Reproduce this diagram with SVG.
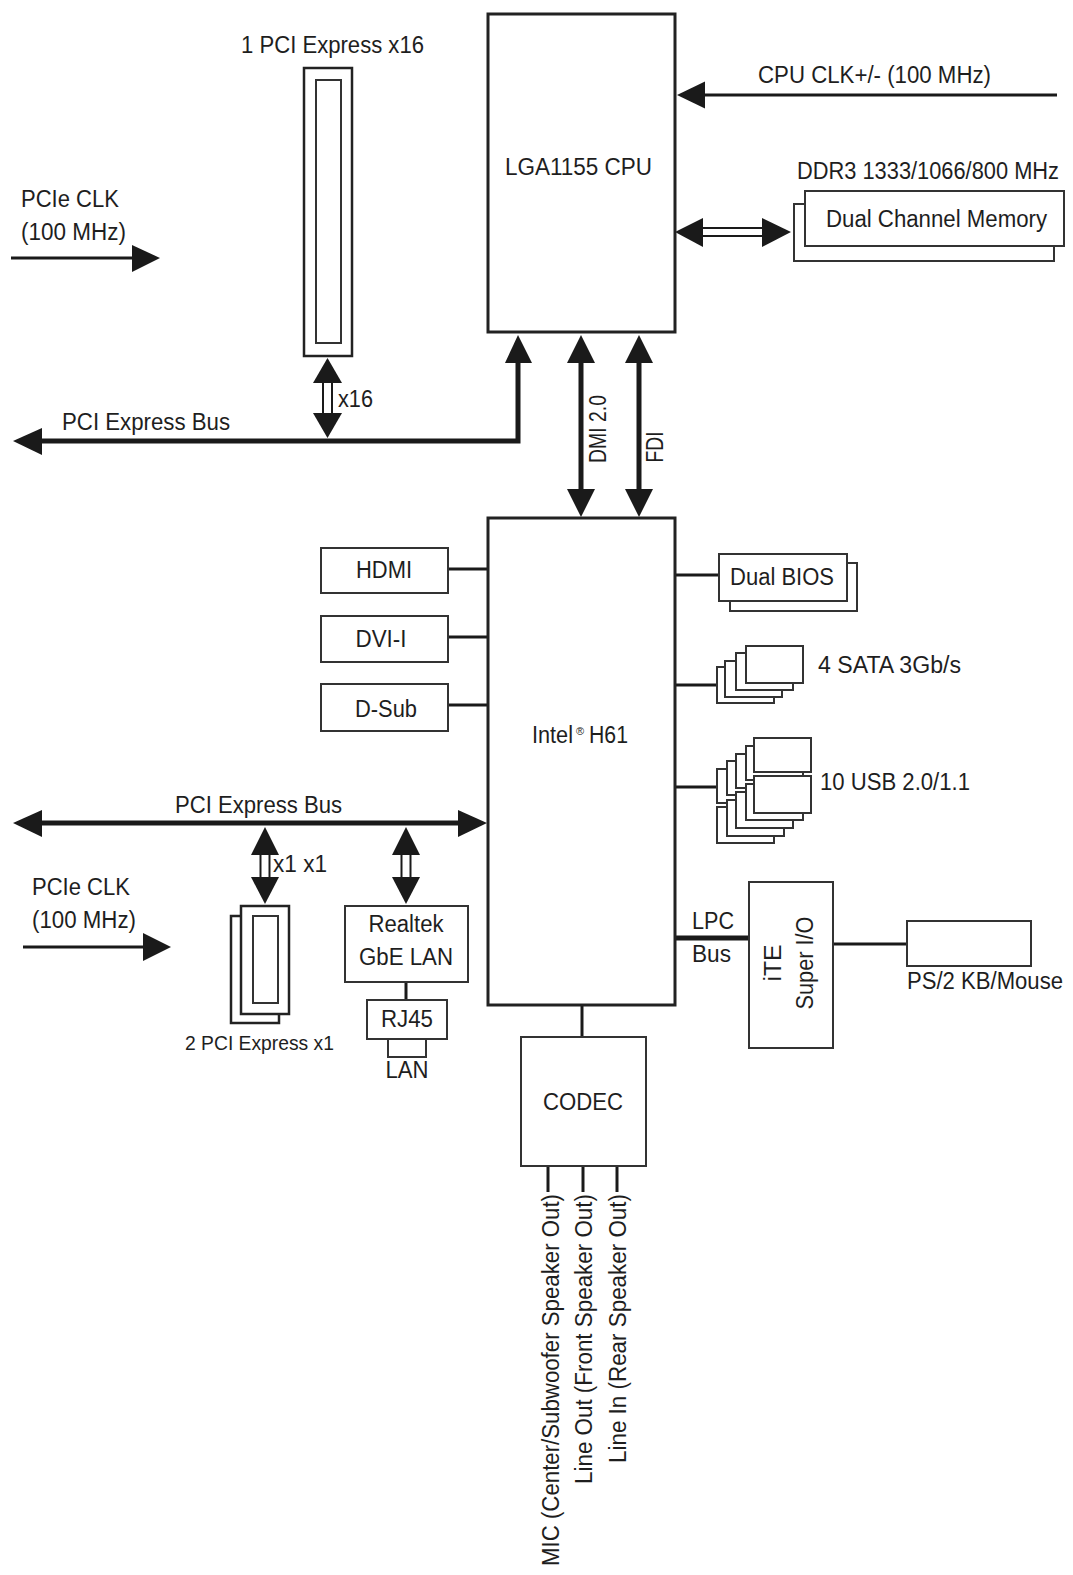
<svg xmlns="http://www.w3.org/2000/svg" width="1073" height="1575" viewBox="0 0 1073 1575">
<style>
text { font-family: "Liberation Sans", Arial, Helvetica, sans-serif; font-size: 23px; fill: #1e1e1e; }
.sm { font-size: 20px; }
.box { fill: #fff; stroke: #333; stroke-width: 2; }
.slot { fill: #fff; stroke: #222; stroke-width: 2.5; }
.chip { fill: #fff; stroke: #222; stroke-width: 3; }
.thick { stroke: #1a1a1a; stroke-width: 5; fill: none; }
.thin { stroke: #1a1a1a; stroke-width: 3; fill: none; }
.dbl { stroke: #1a1a1a; stroke-width: 2; fill: none; }
.head { fill: #1a1a1a; stroke: none; }
</style>
<rect x="0" y="0" width="1073" height="1575" fill="#fff"/>

<g id="connectors">
  <!-- top PCIe bus -->
  <polyline class="thick" points="40,441 518,441 518,360"/>
  <polygon class="head" points="13,441 42,428 42,455"/>
  <polygon class="head" points="518,335 505,363 532,363"/>
  <!-- x16 link -->
  <line class="dbl" x1="323" y1="380" x2="323" y2="416"/>
  <line class="dbl" x1="332" y1="380" x2="332" y2="416"/>
  <polygon class="head" points="327.5,358 313,383 342,383"/>
  <polygon class="head" points="327.5,438 313,413 342,413"/>
  <!-- DMI / FDI -->
  <line class="thick" x1="581" y1="360" x2="581" y2="492"/>
  <polygon class="head" points="581,335 567,363 595,363"/>
  <polygon class="head" points="581,517 567,489 595,489"/>
  <line class="thick" x1="639" y1="360" x2="639" y2="492"/>
  <polygon class="head" points="639,335 625,363 653,363"/>
  <polygon class="head" points="639,517 625,489 653,489"/>
  <!-- memory link -->
  <line class="dbl" x1="700" y1="228" x2="765" y2="228"/>
  <line class="dbl" x1="700" y1="236" x2="765" y2="236"/>
  <polygon class="head" points="675,232 703,218 703,247"/>
  <polygon class="head" points="791,232 762,218 762,247"/>
  <!-- CPU CLK -->
  <line class="thin" x1="1057" y1="95" x2="700" y2="95"/>
  <polygon class="head" points="677,95 705,81.5 705,108.5"/>
  <!-- PCIe CLK top -->
  <line class="thin" x1="11" y1="258" x2="135" y2="258"/>
  <polygon class="head" points="160,258 132,245 132,272"/>
  <!-- PCIe CLK bottom -->
  <line class="thin" x1="23" y1="947" x2="146" y2="947"/>
  <polygon class="head" points="171,947 143,933 143,961"/>
  <!-- middle PCIe bus -->
  <line class="thick" x1="40" y1="823" x2="462" y2="823"/>
  <polygon class="head" points="13,823 42,810 42,837"/>
  <polygon class="head" points="487,823 458,810 458,837"/>
  <!-- x1 link -->
  <line class="dbl" x1="260.5" y1="852" x2="260.5" y2="880"/>
  <line class="dbl" x1="269.5" y1="852" x2="269.5" y2="880"/>
  <polygon class="head" points="265,827 251,855 279,855"/>
  <polygon class="head" points="265,904 251,877 279,877"/>
  <!-- LAN link -->
  <line class="dbl" x1="401.5" y1="852" x2="401.5" y2="880"/>
  <line class="dbl" x1="410.5" y1="852" x2="410.5" y2="880"/>
  <polygon class="head" points="406,827 392,855 420,855"/>
  <polygon class="head" points="406,904 392,877 420,877"/>
  <line class="thin" x1="406" y1="982" x2="406" y2="1000"/>
  <!-- display outputs -->
  <line class="thin" x1="448" y1="569" x2="488" y2="569"/>
  <line class="thin" x1="448" y1="637" x2="488" y2="637"/>
  <line class="thin" x1="448" y1="705" x2="488" y2="705"/>
  <!-- right side -->
  <line class="thin" x1="675" y1="575" x2="719" y2="575"/>
  <line class="thin" x1="675" y1="685" x2="717" y2="685"/>
  <line class="thin" x1="675" y1="787" x2="717" y2="787"/>
  <line class="thick" x1="675" y1="938" x2="749" y2="938"/>
  <line class="thin" x1="833" y1="944" x2="907" y2="944"/>
  <!-- codec -->
  <line class="thin" x1="582" y1="1005" x2="582" y2="1037"/>
  <line class="thin" x1="548" y1="1166" x2="548" y2="1192"/>
  <line class="thin" x1="583" y1="1166" x2="583" y2="1192"/>
  <line class="thin" x1="617" y1="1166" x2="617" y2="1192"/>
</g>

<g id="labels">
  <text x="21" y="207" textLength="98" lengthAdjust="spacingAndGlyphs">PCIe CLK</text>
  <text x="21" y="240" textLength="105" lengthAdjust="spacingAndGlyphs">(100 MHz)</text>
  <text x="62" y="430" textLength="168" lengthAdjust="spacingAndGlyphs">PCI Express Bus</text>
  <text x="338" y="407" textLength="35" lengthAdjust="spacingAndGlyphs">x16</text>
  <text x="758" y="83" textLength="233" lengthAdjust="spacingAndGlyphs">CPU CLK+/- (100 MHz)</text>
  <text x="797" y="179" textLength="262" lengthAdjust="spacingAndGlyphs">DDR3 1333/1066/800 MHz</text>
  <text transform="translate(606,429) rotate(-90)" text-anchor="middle" textLength="68" lengthAdjust="spacingAndGlyphs">DMI 2.0</text>
  <text transform="translate(663,447) rotate(-90)" text-anchor="middle" textLength="31" lengthAdjust="spacingAndGlyphs">FDI</text>
  <text x="175" y="813" textLength="167" lengthAdjust="spacingAndGlyphs">PCI Express Bus</text>
  <text x="273" y="872" textLength="54" lengthAdjust="spacingAndGlyphs">x1 x1</text>
  <text x="32" y="895" textLength="98" lengthAdjust="spacingAndGlyphs">PCIe CLK</text>
  <text x="32" y="928" textLength="104" lengthAdjust="spacingAndGlyphs">(100 MHz)</text>
  <text x="692" y="929" textLength="42" lengthAdjust="spacingAndGlyphs">LPC</text>
  <text x="692" y="962" textLength="39" lengthAdjust="spacingAndGlyphs">Bus</text>
  <text transform="translate(559,1194) rotate(-90)" text-anchor="end" textLength="372" lengthAdjust="spacingAndGlyphs">MIC (Center/Subwoofer Speaker Out)</text>
  <text transform="translate(592,1194) rotate(-90)" text-anchor="end" textLength="290" lengthAdjust="spacingAndGlyphs">Line Out (Front Speaker Out)</text>
  <text transform="translate(626,1194) rotate(-90)" text-anchor="end" textLength="269" lengthAdjust="spacingAndGlyphs">Line In (Rear Speaker Out)</text>
</g>

<g id="pcie-x16-slot">
  <text x="241" y="53" textLength="183" lengthAdjust="spacingAndGlyphs">1 PCI Express x16</text>
  <rect class="slot" x="304" y="68" width="48" height="288"/>
  <rect class="box" x="316" y="80" width="25" height="263"/>
</g>

<g id="cpu">
  <rect class="chip" x="488" y="14" width="187" height="318"/>
  <text x="505" y="175" textLength="147" lengthAdjust="spacingAndGlyphs">LGA1155 CPU</text>
</g>

<g id="memory">
  <rect class="box" x="794" y="204" width="260" height="57"/>
  <rect class="box" x="805" y="191" width="259" height="55"/>
  <text x="826" y="227" textLength="221" lengthAdjust="spacingAndGlyphs">Dual Channel Memory</text>
</g>

<g id="h61">
  <rect class="chip" x="488" y="518" width="187" height="487"/>
  <text x="532" y="743" textLength="41" lengthAdjust="spacingAndGlyphs">Intel</text>
  <text x="576" y="735" style="font-size:11px">®</text>
  <text x="589" y="743" textLength="39" lengthAdjust="spacingAndGlyphs">H61</text>
</g>

<g id="hdmi">
  <rect class="box" x="321" y="548" width="127" height="45"/>
  <text x="384" y="578" text-anchor="middle" textLength="56" lengthAdjust="spacingAndGlyphs">HDMI</text>
</g>
<g id="dvi">
  <rect class="box" x="321" y="616" width="127" height="46"/>
  <text x="381" y="647" text-anchor="middle" textLength="51" lengthAdjust="spacingAndGlyphs">DVI-I</text>
</g>
<g id="dsub">
  <rect class="box" x="321" y="684" width="127" height="47"/>
  <text x="386" y="717" text-anchor="middle" textLength="62" lengthAdjust="spacingAndGlyphs">D-Sub</text>
</g>

<g id="dual-bios">
  <rect class="box" x="730" y="563" width="127" height="48"/>
  <rect class="box" x="719" y="554" width="128" height="47"/>
  <text x="730" y="585" textLength="104" lengthAdjust="spacingAndGlyphs">Dual BIOS</text>
</g>

<g id="sata">
  <rect class="box" x="717" y="667" width="57" height="36"/>
  <rect class="box" x="725" y="661" width="57" height="36"/>
  <rect class="box" x="736" y="653" width="57" height="37"/>
  <rect class="box" x="746" y="646" width="57" height="37"/>
  <text x="818" y="673" textLength="143" lengthAdjust="spacingAndGlyphs">4 SATA 3Gb/s</text>
</g>

<g id="usb">
  <rect class="box" x="717" y="769" width="57" height="34"/>
  <rect class="box" x="727" y="761" width="57" height="34"/>
  <rect class="box" x="736" y="754" width="57" height="34"/>
  <rect class="box" x="746" y="746" width="57" height="34"/>
  <rect class="box" x="754" y="738" width="57" height="34"/>
  <rect class="box" x="717" y="807" width="57" height="36"/>
  <rect class="box" x="727" y="800" width="57" height="36"/>
  <rect class="box" x="736" y="792" width="57" height="36"/>
  <rect class="box" x="746" y="784" width="57" height="36"/>
  <rect class="box" x="754" y="776" width="57" height="37"/>
  <text x="820" y="790" textLength="150" lengthAdjust="spacingAndGlyphs">10 USB 2.0/1.1</text>
</g>

<g id="pcie-x1-slots">
  <rect class="slot" x="231" y="916" width="48" height="107"/>
  <rect class="slot" x="241" y="906" width="48" height="108"/>
  <rect class="box" x="253" y="916" width="25" height="87"/>
  <text class="sm" x="185" y="1050" textLength="149" lengthAdjust="spacingAndGlyphs">2 PCI Express x1</text>
</g>

<g id="realtek-lan">
  <rect class="box" x="345" y="906" width="123" height="76"/>
  <text x="406" y="932" text-anchor="middle" textLength="75" lengthAdjust="spacingAndGlyphs">Realtek</text>
  <text x="406" y="965" text-anchor="middle" textLength="94" lengthAdjust="spacingAndGlyphs">GbE LAN</text>
</g>

<g id="rj45">
  <rect class="box" x="367" y="1000" width="80" height="39"/>
  <text x="407" y="1027" text-anchor="middle" textLength="52" lengthAdjust="spacingAndGlyphs">RJ45</text>
  <rect class="box" x="388" y="1039" width="38" height="18"/>
  <text x="407" y="1078" text-anchor="middle" textLength="43" lengthAdjust="spacingAndGlyphs">LAN</text>
</g>

<g id="super-io">
  <rect class="box" x="749" y="882" width="84" height="166"/>
  <text transform="translate(781,963) rotate(-90)" text-anchor="middle" textLength="37" lengthAdjust="spacingAndGlyphs">iTE</text>
  <text transform="translate(813,963) rotate(-90)" text-anchor="middle" textLength="93" lengthAdjust="spacingAndGlyphs">Super I/O</text>
</g>

<g id="ps2">
  <rect class="box" x="907" y="921" width="124" height="45"/>
  <text x="907" y="989" textLength="156" lengthAdjust="spacingAndGlyphs">PS/2 KB/Mouse</text>
</g>

<g id="codec">
  <rect class="box" x="521" y="1037" width="125" height="129"/>
  <text x="583" y="1110" text-anchor="middle" textLength="80" lengthAdjust="spacingAndGlyphs">CODEC</text>
</g>
</svg>
